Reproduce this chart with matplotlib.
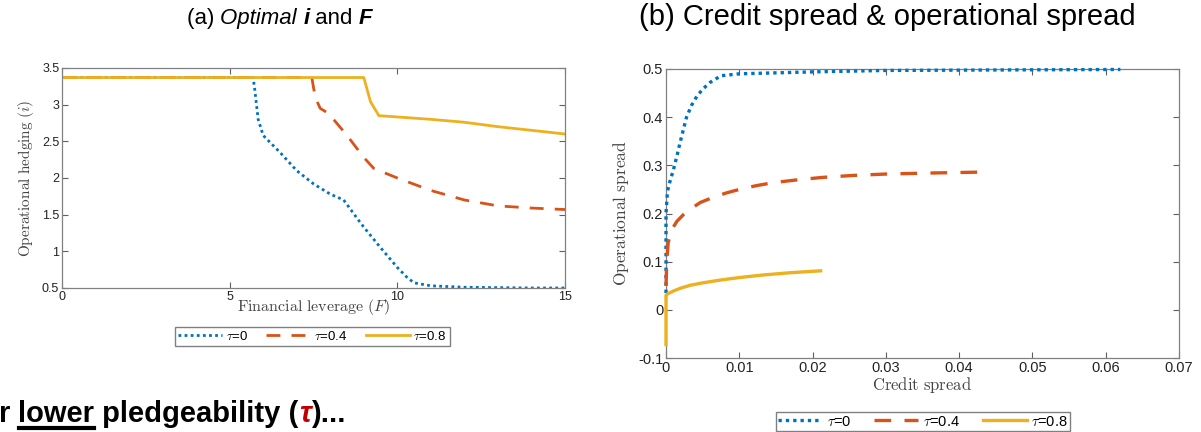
import matplotlib
matplotlib.use("Agg")
from matplotlib import pyplot as plt
from matplotlib.ticker import FuncFormatter
import numpy as np

plt.rcParams['font.family'] = ['Liberation Sans', 'DejaVu Sans']
plt.rcParams['mathtext.fontset'] = 'cm'

# panel (a): optimal operational hedging i vs financial leverage F
F_tau0 = [0, 5.7, 5.75, 5.85, 6.0, 6.5, 7.0, 7.5, 8.0, 8.4, 8.8, 9.0, 9.5, 10.0, 10.3, 10.5, 11.0, 12, 13, 14, 15]
i_tau0 = [3.37, 3.37, 3.2, 2.8, 2.58, 2.35, 2.10, 1.92, 1.78, 1.70, 1.45, 1.33, 1.05, 0.78, 0.64, 0.57, 0.53, 0.51, 0.505, 0.50, 0.50]
F_tau4 = [0, 7.45, 7.55, 7.7, 7.95, 8.5, 9.0, 9.3, 10, 11, 12, 13, 14, 15]
i_tau4 = [3.37, 3.37, 3.1, 2.95, 2.88, 2.58, 2.28, 2.13, 2.0, 1.83, 1.70, 1.62, 1.59, 1.57]
F_tau8 = [0, 9.0, 9.2, 9.45, 11, 12, 13, 14, 15]
i_tau8 = [3.37, 3.37, 3.04, 2.85, 2.80, 2.76, 2.70, 2.65, 2.60]

# panel (b): operational spread vs credit spread
cs_tau0 = [0, 0, 0.0002, 0.0006, 0.001, 0.0015, 0.0019, 0.0028, 0.0035, 0.0042, 0.005, 0.006, 0.0075, 0.01, 0.02, 0.03, 0.045, 0.062]
os_tau0 = [0.035, 0.20, 0.246, 0.27, 0.29, 0.32, 0.346, 0.40, 0.425, 0.443, 0.458, 0.472, 0.486, 0.490, 0.494, 0.497, 0.498, 0.499]
cs_tau4 = [0, 0.0001, 0.0003, 0.0008, 0.0015, 0.0024, 0.0035, 0.0047, 0.0065, 0.0083, 0.0105, 0.0124, 0.0146, 0.018, 0.0214, 0.0255, 0.0301, 0.036, 0.0432]
os_tau4 = [0.05, 0.10, 0.14, 0.167, 0.184, 0.198, 0.211, 0.223, 0.234, 0.243, 0.252, 0.258, 0.264, 0.270, 0.275, 0.279, 0.282, 0.284, 0.286]
cs_tau8 = [0, 0, 0.0002, 0.001, 0.002, 0.0033, 0.005, 0.0075, 0.01, 0.013, 0.0169, 0.0211]
os_tau8 = [-0.072, 0.030, 0.033, 0.039, 0.045, 0.051, 0.056, 0.062, 0.067, 0.072, 0.077, 0.081]

labels = [r'$\tau$=0', r'$\tau$=0.4', r'$\tau$=0.8']
colors = ['#0072BD', '#D95319', '#EDB120']
styles = [(0, (1, 1.2)), (0, (5, 4)), '-']

W, H = 1201, 432
fig = plt.figure(figsize=(W / 100, H / 100), dpi=100)
renderer = fig.canvas.get_renderer()


def box(x0, y0, x1, y1):
    return [x0 / W, 1 - y1 / H, (x1 - x0) / W, (y1 - y0) / H]


def style_axes(ax, fs):
    for s in ax.spines.values():
        s.set_color('#808080')
        s.set_linewidth(0.9)
    ax.tick_params(direction='in', top=True, right=True, length=4, width=0.8,
                   color='#606060', labelsize=fs, labelcolor='#222222', pad=2)
    ax.xaxis.set_major_formatter(FuncFormatter(lambda v, p: '{:g}'.format(round(v, 4))))
    ax.yaxis.set_major_formatter(FuncFormatter(lambda v, p: '{:g}'.format(round(v, 4))))


ax1 = fig.add_axes(box(62, 68, 565, 288))
for F, iv, c, ls, lab in zip([F_tau0, F_tau4, F_tau8], [i_tau0, i_tau4, i_tau8], colors, styles, labels):
    ax1.plot(F, iv, color=c, linestyle=ls, linewidth=2.0, label=lab)
ax1.set_xlim(0, 15)
ax1.set_ylim(0.5, 3.5)
ax1.set_xticks([0, 5, 10, 15])
ax1.set_yticks(np.arange(0.5, 3.51, 0.5))
style_axes(ax1, 9)
ax1.set_xlabel(r'$\mathrm{Financial\ leverage\ }(F)$', fontsize=11.5, color='#444444', labelpad=-4)
ax1.set_ylabel(r'$\mathrm{Operational\ hedging\ }(i)$', fontsize=11, color='#444444', labelpad=4)
ax1.legend(loc='center', bbox_to_anchor=(312.5 / W, 1 - 336.5 / H), bbox_transform=fig.transFigure,
           ncol=3, fontsize=9.5, frameon=True, fancybox=False, edgecolor='#808080', framealpha=1,
           handlelength=3.3, columnspacing=1.4, handletextpad=0.3, borderpad=0.2)

ax2 = fig.add_axes(box(666, 69, 1179, 358))
for cs, osp, c, ls, lab in zip([cs_tau0, cs_tau4, cs_tau8], [os_tau0, os_tau4, os_tau8], colors, styles, labels):
    ax2.plot(cs, osp, color=c, linestyle=ls, linewidth=2.4, label=lab, clip_on=False, zorder=3)
ax2.set_xlim(0, 0.07)
ax2.set_ylim(-0.1, 0.5)
ax2.set_xticks(np.arange(0, 0.0701, 0.01))
ax2.set_yticks(np.arange(-0.1, 0.501, 0.1))
style_axes(ax2, 10.5)
ax2.set_xlabel(r'$\mathrm{Credit\ spread}$', fontsize=12, color='#444444', labelpad=0.5)
ax2.set_ylabel(r'$\mathrm{Operational\ spread}$', fontsize=12.5, color='#444444', labelpad=5)
ax2.legend(loc='center', bbox_to_anchor=(923 / W, 1 - 421.5 / H), bbox_transform=fig.transFigure,
           ncol=3, fontsize=10.5, frameon=True, fancybox=False, edgecolor='#808080', framealpha=1,
           handlelength=3.0, columnspacing=1.6, handletextpad=0.3, borderpad=0.15)


def run_text(pieces, x, y, fs):
    # draw text pieces one after another starting at pixel x
    for txt, kw in pieces:
        t = fig.text(x / W, 1 - y / H, txt, fontsize=fs, va='baseline', ha='left', **kw)
        x += t.get_window_extent(renderer).width
    return x


run_text([('(a) ', {}), ('Optimal ', {'style': 'italic'}), ('i', {'style': 'italic', 'weight': 'bold'}),
          (' and ', {}), ('F', {'style': 'italic', 'weight': 'bold'})], 187, 24, 16)
fig.text(887 / W, 1 - 25 / H, '(b) Credit spread & operational spread', fontsize=21,
         ha='center', va='baseline')

# bottom caption, cut off at the left edge
x = run_text([('r ', {'weight': 'bold'})], -1, 422, 21)
t = fig.text(x / W, 1 - 422 / H, 'lower', fontsize=21, weight='bold', va='baseline')
bb = t.get_window_extent(renderer)
fig.add_artist(plt.Line2D([bb.x0 / W, bb.x1 / W], [1 - 428 / H, 1 - 428 / H], color='black', linewidth=3))
x += bb.width
run_text([(' pledgeability (', {'weight': 'bold'}),
          ('τ', {'weight': 'bold', 'style': 'italic', 'color': '#C00000'}),
          (')...', {'weight': 'bold'})], x, 422, 21)

fig.savefig('out.png', dpi=100)
